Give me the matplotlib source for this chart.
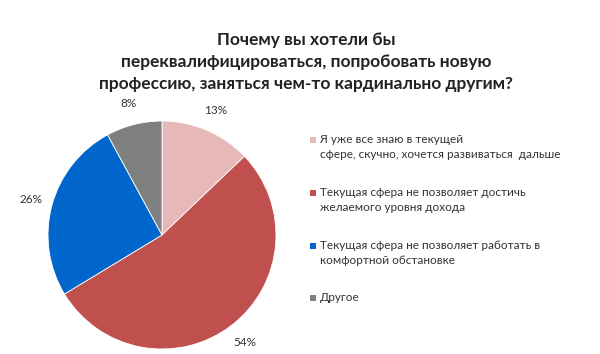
import matplotlib.pyplot as plt
from matplotlib.patches import Rectangle

# данные опроса
labels = ["Я уже все знаю в текущей\nсфере, скучно, хочется развиваться  дальше",
          "Текущая сфера не позволяет достичь\nжелаемого уровня дохода",
          "Текущая сфера не позволяет работать в\nкомфортной обстановке",
          "Другое"]
values = [13, 54, 26, 8]
pct_labels = ["13%", "54%", "26%", "8%"]
colors = ["#E6B9B8", "#C0504D", "#0066CC", "#7F7F7F"]
title = ("Почему вы хотели бы\nпереквалифицироваться, попробовать новую\n"
         "профессию, заняться чем-то кардинально другим?")

plt.rcParams['font.family'] = ['Lato', 'DejaVu Sans']

fig = plt.figure(figsize=(6, 3.54), dpi=100)
W, H = 600, 354

# круговая диаграмма
cx, cy, r = 162, 235, 114
ax = fig.add_axes([(cx - r) / W, (H - cy - r) / H, 2 * r / W, 2 * r / H])
wedges, texts = ax.pie(values, colors=colors, startangle=90, counterclock=False,
                       labels=pct_labels, labeldistance=1.19,
                       wedgeprops=dict(linewidth=0.6, edgecolor="white"),
                       textprops=dict(fontsize=8.5, color="#333333"))
for t in texts:
    t.set_ha("center")
    t.set_va("center")
ax.set_xlim(-1, 1)
ax.set_ylim(-1, 1)
ax.set_aspect("auto")

fig.text(306 / W, 1 - 62 / H, title, ha="center", va="center", fontsize=12.5,
         fontweight="bold", color="#222222", linespacing=1.45)

# легенда
ys = [140, 193, 246, 298]
for y, lab, c in zip(ys, labels, colors):
    fig.patches.append(Rectangle((310 / W, 1 - (y + 3) / H), 6 / W, 6 / H,
                                 transform=fig.transFigure, facecolor=c,
                                 edgecolor="none"))
    fig.text(320 / W, 1 - (y - 6) / H, lab, ha="left", va="top", fontsize=8.5,
             color="#333333", linespacing=1.45)

fig.savefig("out.png", dpi=100)
